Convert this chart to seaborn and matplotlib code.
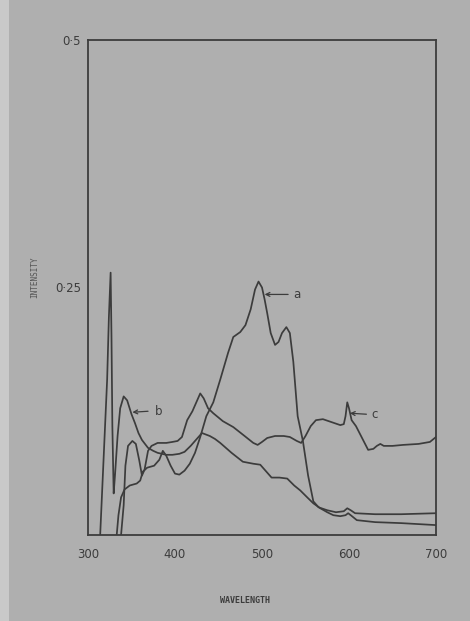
import numpy as np
import pandas as pd
import matplotlib
matplotlib.use("Agg")
import matplotlib.pyplot as plt
from matplotlib.patches import Rectangle
import seaborn as sns

# ---- data ----
a_x = [333, 335, 338, 342, 348, 356, 360, 363, 368, 376, 382, 386, 390, 395, 400, 405, 411, 417, 423, 429,
       436, 444, 452, 461, 467, 475, 481, 487, 492, 496, 500, 503, 506, 510, 515, 519, 523, 528, 532, 536,
       541, 547, 553, 559, 565, 575, 585, 594, 598, 602, 607, 630, 660, 700]
a_y = [0.0, 0.02, 0.038, 0.046, 0.050, 0.052, 0.055, 0.064, 0.068, 0.070, 0.076, 0.085, 0.080, 0.070, 0.062,
       0.061, 0.065, 0.072, 0.083, 0.099, 0.120, 0.134, 0.157, 0.184, 0.200, 0.205, 0.212, 0.228, 0.248,
       0.256, 0.250, 0.238, 0.224, 0.204, 0.192, 0.195, 0.204, 0.210, 0.204, 0.175, 0.120, 0.095, 0.060,
       0.034, 0.028, 0.025, 0.023, 0.024, 0.027, 0.025, 0.022, 0.021, 0.021, 0.022]

b_x = [314, 322, 324, 326, 327, 328, 329.5, 331, 334, 337, 341, 345, 350, 354, 358, 362, 369, 375, 380, 390,
       397, 405, 411, 418, 425, 431, 440, 446, 452, 465, 478, 490, 498, 505, 511, 520, 529, 537, 544, 552,
       559, 567, 575, 582, 590, 596, 599, 602, 609, 630, 660, 700]
b_y = [0.0, 0.157, 0.22, 0.265, 0.20, 0.11, 0.042, 0.06, 0.10, 0.128, 0.140, 0.136, 0.122, 0.113, 0.103,
       0.096, 0.088, 0.085, 0.083, 0.081, 0.081, 0.082, 0.084, 0.090, 0.097, 0.103, 0.100, 0.097, 0.093,
       0.083, 0.074, 0.072, 0.071, 0.064, 0.058, 0.058, 0.057, 0.050, 0.045, 0.038, 0.032, 0.027, 0.023,
       0.020, 0.019, 0.020, 0.022, 0.020, 0.015, 0.013, 0.012, 0.010]

c_x = [338, 341, 343, 346, 351, 355, 359, 362, 365, 369, 373, 380, 390, 397, 403, 408, 414, 420, 425, 429,
       433, 438, 444, 455, 467, 480, 490, 495, 500, 506, 515, 525, 532, 540, 545, 550, 556, 562, 570, 580,
       590, 594, 596, 598, 600, 603, 608, 615, 622, 628, 632, 636, 640, 650, 662, 680, 693, 700]
c_y = [0.0, 0.03, 0.070, 0.090, 0.095, 0.092, 0.075, 0.060, 0.066, 0.085, 0.090, 0.093, 0.093, 0.094,
       0.095, 0.099, 0.116, 0.125, 0.135, 0.143, 0.138, 0.128, 0.123, 0.115, 0.109, 0.100, 0.093, 0.091,
       0.094, 0.098, 0.100, 0.100, 0.099, 0.095, 0.093, 0.100, 0.110, 0.116, 0.117, 0.114, 0.111, 0.112,
       0.120, 0.134, 0.128, 0.116, 0.110, 0.098, 0.086, 0.087, 0.090, 0.092, 0.090, 0.090, 0.091, 0.092,
       0.094, 0.099]

x_ticks = [300, 400, 500, 600, 700]
y_ticks = [0.25, 0.5]
y_tick_labels = ["0·25", "0·5"]

# labels: (text, label pos, arrow tip, arrow tail)
curve_labels = ["a", "b", "c"]
label_pos = [(536, 0.243), (377, 0.125), (626, 0.122)]
arrow_tip = [(503, 0.243), (351, 0.124), (601, 0.123)]
arrow_tail = [(530, 0.243), (369, 0.125), (620, 0.122)]

frames = []
for name, xs, ys in [("a", a_x, a_y), ("b", b_x, b_y), ("c", c_x, c_y)]:
    frames.append(pd.DataFrame({"wavelength": xs, "intensity": ys, "curve": name}))
df = pd.concat(frames, ignore_index=True)

sns.set_style("white")
plt.rcParams['font.family'] = ['DejaVu Sans']

bg = "#afafaf"
ink = "#3c3c3c"

fig = plt.figure(figsize=(4.70, 6.21), dpi=100, facecolor=bg)
# lighter paper edge on the left of the photo
fig.patches.append(Rectangle((0, 0), 9 / 470, 1, transform=fig.transFigure,
                             facecolor="#c9c9c9", edgecolor="none", zorder=0))
ax = fig.add_axes([88 / 470, 1 - 535 / 621, (436 - 88) / 470, (535 - 40) / 621])
ax.set_facecolor(bg)

sns.lineplot(data=df, x="wavelength", y="intensity", hue="curve", units="curve",
             estimator=None, sort=False, palette={"a": ink, "b": ink, "c": ink},
             linewidth=1.25, legend=False, ax=ax)
for ln in ax.lines:
    ln.set_solid_joinstyle("round")

for t, (lx, ly), (tx, ty), (sx, sy) in zip(curve_labels, label_pos, arrow_tip, arrow_tail):
    ax.annotate("", xy=(tx, ty), xytext=(sx, sy),
                arrowprops=dict(arrowstyle="->", color=ink, lw=0.9, shrinkA=0, shrinkB=0,
                                mutation_scale=7))
    ax.text(lx, ly, t, ha="left", va="center", fontsize=8.5, color=ink)

ax.set_xlim(300, 700)
ax.set_ylim(0, 0.5)
ax.set_xticks(x_ticks)
ax.set_xticklabels([str(v) for v in x_ticks])
ax.set_yticks(y_ticks)
ax.set_yticklabels(y_tick_labels)
ax.tick_params(axis="x", direction="out", length=3, width=1, pad=6, labelsize=8.5, colors=ink)
ax.tick_params(axis="y", direction="out", length=3, width=1, pad=2, labelsize=8.5, colors=ink)
for s in ax.spines.values():
    s.set_color(ink)
    s.set_linewidth(1.3)
    s.set_visible(True)

ax.set_xlabel("WAVELENGTH", fontsize=6, fontweight="bold", color=ink, family="DejaVu Sans Mono")
ax.xaxis.set_label_coords(0.451, -0.123)
ax.set_ylabel("INTENSITY", fontsize=5.5, color="#555555", family="DejaVu Sans Mono")
ax.yaxis.set_label_coords(-0.14, 0.52)

fig.savefig("out.png", dpi=100, facecolor=bg)
